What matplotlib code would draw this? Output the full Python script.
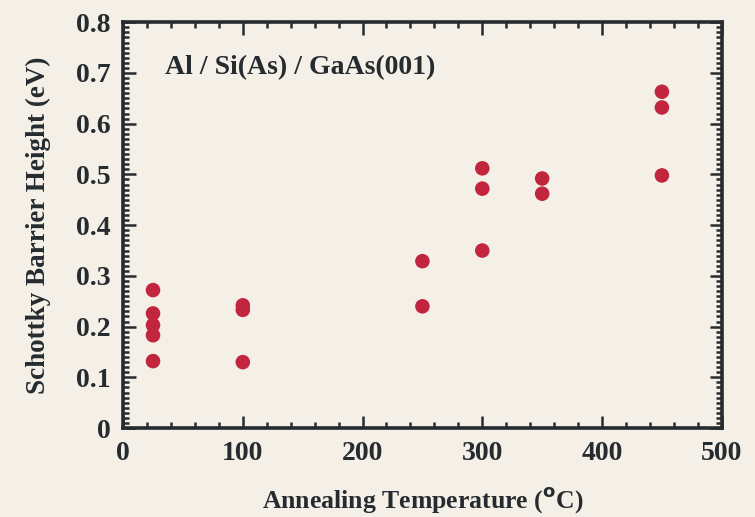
import matplotlib.pyplot as plt
from matplotlib.ticker import MultipleLocator

# annealing temperature (C) and Schottky barrier height (eV)
temp = [25, 25, 25, 25, 25,
        100, 100, 100,
        250, 250,
        300, 300, 300,
        350, 350,
        450, 450, 450]
sbh = [0.272, 0.226, 0.203, 0.183, 0.132,
       0.242, 0.233, 0.130,
       0.329, 0.240,
       0.512, 0.472, 0.350,
       0.492, 0.462,
       0.663, 0.632, 0.498]

x_ticks = [0, 100, 200, 300, 400, 500]
y_ticks = [0, 0.1, 0.2, 0.3, 0.4, 0.5, 0.6, 0.7, 0.8]
y_ticklabels = ['0', '0.1', '0.2', '0.3', '0.4', '0.5', '0.6', '0.7', '0.8']

ink = '#262b30'
bg = '#f4f0e7'

plt.rcParams['font.family'] = ['Liberation Serif', 'DejaVu Serif']
plt.rcParams['font.weight'] = 'bold'

fig = plt.figure(figsize=(7.55, 5.17), dpi=100, facecolor=bg)
ax = fig.add_axes([0.163, 0.172, 0.793, 0.785])
ax.set_facecolor(bg)

ax.scatter(temp, sbh, s=110, color='#c1263e', edgecolors='none', zorder=3)

ax.set_xlim(0, 500)
ax.set_ylim(0, 0.8)
ax.set_xticks(x_ticks)
ax.set_yticks(y_ticks)
ax.set_yticklabels(y_ticklabels)
ax.xaxis.set_minor_locator(MultipleLocator(20))
ax.yaxis.set_minor_locator(MultipleLocator(0.01))

ax.tick_params(which='both', direction='in', top=True, right=True,
               color=ink, labelcolor=ink, labelsize=20, width=1.8)
ax.tick_params(which='major', length=9)
ax.tick_params(axis='x', which='major', pad=9)
ax.tick_params(axis='y', which='major', pad=9)
ax.tick_params(which='minor', length=4.5)
for s in ax.spines.values():
    s.set_linewidth(2.6)
    s.set_color(ink)

ax.set_xlabel('Annealing Temperature ($^{\\mathbf{o}}$C)', fontsize=18.5,
              fontweight='bold', color=ink, labelpad=14)
ax.set_ylabel('Schottky Barrier Height (eV)', fontsize=19.5,
              fontweight='bold', color=ink, labelpad=18)

ax.text(35, 0.71, 'Al / Si(As) / GaAs(001)', fontsize=20, fontweight='bold',
        color=ink, va='center', ha='left')

fig.savefig('out.png', dpi=100, facecolor=bg)
